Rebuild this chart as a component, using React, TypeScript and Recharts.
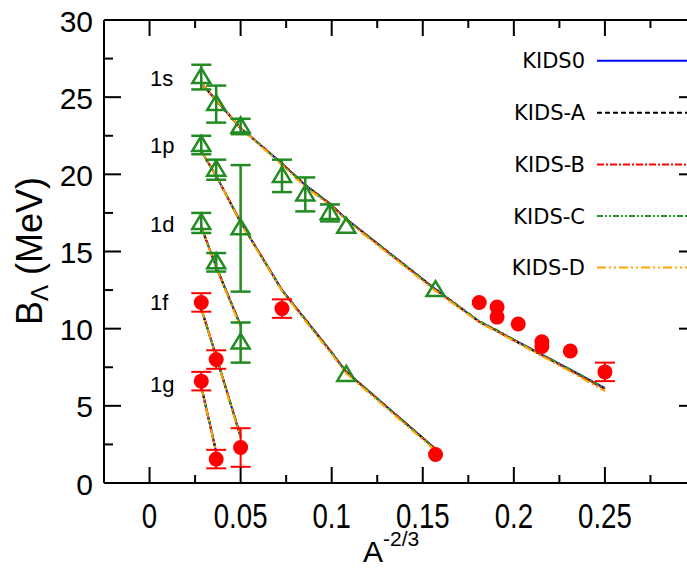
import { ComposedChart, Line, Scatter, XAxis, YAxis, ErrorBar } from 'recharts';

// x = A^(-2/3) of the hypernuclei used for the calculated curves
const xNodes = [0.0284, 0.0366, 0.05, 0.0727, 0.0855, 0.099, 0.108, 0.157, 0.181, 0.1908, 0.2024, 0.2154, 0.231, 0.25];

// calculated B_Lambda (MeV) per state and model
const kids0_1s = [25.9, 24.8, 23.0, 20.7, 19.3, 18.1, 17.1, 12.55, 10.45, 9.85, 9.12, 8.31, 7.34, 6.15];
const kidsA_1s = [25.9, 24.8, 23.0, 20.7, 19.3, 18.1, 17.1, 12.55, 10.45, 9.85, 9.1, 8.28, 7.3, 6.1];
const kidsB_1s = [25.9, 24.8, 23.0, 20.7, 19.3, 18.1, 17.1, 12.5, 10.45, 9.85, 9.1, 8.28, 7.3, 6.1];
const kidsC_1s = [25.9, 24.8, 23.0, 20.7, 19.3, 18.1, 17.1, 12.55, 10.5, 9.9, 9.15, 8.33, 7.36, 6.15];
const kidsD_1s = [25.9, 24.8, 23.0, 20.6, 19.2, 18.0, 17.0, 12.45, 10.4, 9.8, 9.05, 8.22, 7.22, 5.95];
const kids0_1p = [21.5, 19.9, 16.9, 12.5, 10.6, 8.6, 7.2, 2.2];
const kidsD_1p = [21.5, 19.9, 16.85, 12.45, 10.5, 8.5, 7.1, 2.1];
const kids0_1d = [16.6, 14.0, 10.2];
const kidsD_1d = [16.6, 13.95, 10.1];
const kids0_1f = [11.3, 8.2, 3.0];
const kidsD_1f = [11.3, 8.15, 2.9];
const kids0_1g = [6.25, 2.0];
const kidsD_1g = [6.25, 1.95];

// experimental points: open green triangles
const triX = [0.0284, 0.0366, 0.05, 0.0727, 0.0855, 0.099, 0.108, 0.157, 0.0284, 0.0366, 0.05, 0.108, 0.0284, 0.0366, 0.05];
const triY = [26.3, 24.55, 23.1, 19.9, 18.7, 17.5, 16.6, 12.5, 21.9, 20.3, 16.5, 7.0, 16.85, 14.3, 9.1];
const triErr = [0.8, 1.2, 0.5, 1.05, 1.1, 0.55, 0, 0, 0.6, 0.65, 4.1, 0, 0.65, 0.6, 1.3];

// experimental points: filled red circles
const dotX = [0.0284, 0.0366, 0.05, 0.0284, 0.0366, 0.0727, 0.157, 0.181, 0.1908, 0.1908, 0.2024, 0.2154, 0.2154, 0.231, 0.25];
const dotY = [11.7, 8.0, 2.3, 6.6, 1.55, 11.3, 1.85, 11.7, 11.4, 10.75, 10.3, 9.15, 8.85, 8.55, 7.2];
const dotErr = [0.6, 0.6, 1.25, 0.6, 0.6, 0.6, 0, 0, 0, 0, 0, 0, 0, 0, 0.6];

const modelNames = ['KIDS0', 'KIDS-A', 'KIDS-B', 'KIDS-C', 'KIDS-D'];
const modelColors = ['#0000ff', '#000000', '#ff0000', '#2a8f2a', '#ffa500'];
const modelDash = [undefined, '5 3', '7 2 2 2', '6 2 2 2 2 2', '9 3 2 3 2 3'];

const stateLabels = ['1s', '1p', '1d', '1f', '1g'];

const xMajor = [0, 0.05, 0.1, 0.15, 0.2, 0.25];
const xMinor = [0.025, 0.075, 0.125, 0.175, 0.225, 0.275];
const xLabels = ['0', '0.05', '0.1', '0.15', '0.2', '0.25'];
const yMajor = [0, 5, 10, 15, 20, 25, 30];
const yMinor = [2.5, 7.5, 12.5, 17.5, 22.5, 27.5];

const stateCurves = [
  [kids0_1s, kidsA_1s, kidsB_1s, kidsC_1s, kidsD_1s],
  [kids0_1p, kids0_1p, kids0_1p, kids0_1p, kidsD_1p],
  [kids0_1d, kids0_1d, kids0_1d, kids0_1d, kidsD_1d],
  [kids0_1f, kids0_1f, kids0_1f, kids0_1f, kidsD_1f],
  [kids0_1g, kids0_1g, kids0_1g, kids0_1g, kidsD_1g],
];

const curveData = stateCurves.map((models) =>
  models[0].map((_, i) => ({
    x: xNodes[i],
    k0: models[0][i],
    k1: models[1][i],
    k2: models[2][i],
    k3: models[3][i],
    k4: models[4][i],
  }))
);
const triData = triX.map((x, i) => ({ x, y: triY[i], err: triErr[i] }));
const dotData = dotX.map((x, i) => ({ x, y: dotY[i], err: dotErr[i] }));

const W = 700;
const H = 569;
const FONT = 'Liberation Sans, Arial, Helvetica, sans-serif';

const isIn = (arr: number[], v: number) => arr.findIndex((a) => Math.abs(a - v) < 1e-9);

const BottomTick = (p: any) => {
  const v = p.payload.value;
  const mi = isIn(xMajor, v);
  const len = mi >= 0 ? 16 : 8;
  return (
    <g>
      <line x1={p.x} y1={p.y} x2={p.x} y2={p.y - len} stroke="#000" strokeWidth={2} />
      {mi >= 0 && (
        <text
          transform={`translate(${p.x},${p.y + 45}) scale(0.79,1)`}
          textAnchor="middle"
          fontFamily={FONT}
          fontSize={35}
          fill="#000"
        >
          {xLabels[mi]}
        </text>
      )}
    </g>
  );
};

const TopTick = (p: any) => {
  const len = isIn(xMajor, p.payload.value) >= 0 ? 16 : 8;
  return <line x1={p.x} y1={p.y} x2={p.x} y2={p.y + len} stroke="#000" strokeWidth={2} />;
};

const LeftTick = (p: any) => {
  const v = p.payload.value;
  const major = isIn(yMajor, v) >= 0;
  const len = major ? 17 : 9;
  return (
    <g>
      <line x1={p.x} y1={p.y} x2={p.x + len} y2={p.y} stroke="#000" strokeWidth={2} />
      {major && (
        <text x={p.x - 11} y={p.y + 11.5} textAnchor="end" fontFamily={FONT} fontSize={30} fill="#000">
          {v}
        </text>
      )}
    </g>
  );
};

const RightTick = (p: any) => {
  const len = isIn(yMajor, p.payload.value) >= 0 ? 17 : 9;
  return <line x1={p.x} y1={p.y} x2={p.x - len} y2={p.y} stroke="#000" strokeWidth={2} />;
};

const TriangleShape = (p: any) => (
  <polygon
    points={`${p.cx},${p.cy - 9} ${p.cx - 9},${p.cy + 6} ${p.cx + 9},${p.cy + 6}`}
    fill="none"
    stroke="#228b22"
    strokeWidth={2.5}
  />
);

const DotShape = (p: any) => <circle cx={p.cx} cy={p.cy} r={7.5} fill="#ff0000" />;

const legendRows = [60.7, 112.7, 164.5, 216, 267.5];
const labelBaselines = [86, 153, 232, 310, 392];

export default function App() {
  return (
    <div style={{ position: 'fixed', left: 0, top: 0, width: 687, height: H, overflow: 'hidden', background: '#fff' }}>
      <ComposedChart width={W} height={H} margin={{ top: 19, right: 3, left: 103, bottom: 85 }}>
        <XAxis
          dataKey="x"
          type="number"
          domain={[-0.025, 0.3]}
          ticks={[...xMajor, ...xMinor]}
          interval={0}
          height={1}
          tickSize={0}
          tickMargin={0}
          tickLine={false}
          axisLine={{ stroke: '#000', strokeWidth: 2 }}
          tick={BottomTick}
          allowDataOverflow
        />
        <XAxis
          xAxisId="top"
          orientation="top"
          dataKey="x"
          type="number"
          domain={[-0.025, 0.3]}
          ticks={[...xMajor, ...xMinor]}
          interval={0}
          height={1}
          tickSize={0}
          tickMargin={0}
          tickLine={false}
          axisLine={{ stroke: '#000', strokeWidth: 2 }}
          tick={TopTick}
          allowDataOverflow
        />
        <YAxis
          type="number"
          domain={[0, 30]}
          ticks={[...yMajor, ...yMinor]}
          interval={0}
          width={1}
          tickSize={0}
          tickMargin={0}
          tickLine={false}
          axisLine={{ stroke: '#000', strokeWidth: 2 }}
          tick={LeftTick}
          allowDataOverflow
        />
        <YAxis
          yAxisId="right"
          orientation="right"
          type="number"
          domain={[0, 30]}
          ticks={[...yMajor, ...yMinor]}
          interval={0}
          width={1}
          tickSize={0}
          tickMargin={0}
          tickLine={false}
          axisLine={{ stroke: '#000', strokeWidth: 2 }}
          tick={RightTick}
          allowDataOverflow
        />

        {curveData.map((rows, si) =>
          modelNames.map((name, mi) => (
            <Line
              key={`${stateLabels[si]}-${name}`}
              data={rows}
              dataKey={`k${mi}`}
              name={name}
              type="linear"
              stroke={modelColors[mi]}
              strokeDasharray={modelDash[mi]}
              strokeWidth={2}
              dot={false}
              isAnimationActive={false}
            />
          ))
        )}

        <Scatter data={triData} dataKey="y" shape={TriangleShape} isAnimationActive={false}>
          <ErrorBar dataKey="err" direction="y" width={10} stroke="#228b22" strokeWidth={2.5} />
        </Scatter>
        <Scatter data={dotData} dataKey="y" shape={DotShape} isAnimationActive={false}>
          <ErrorBar dataKey="err" direction="y" width={10} stroke="#ff0000" strokeWidth={2} />
        </Scatter>
      </ComposedChart>

      <svg width={687} height={H} style={{ position: 'absolute', left: 0, top: 0, pointerEvents: 'none' }}>
        {/* y title */}
        <text transform="translate(42,251) rotate(-90)" textAnchor="middle" fontFamily={FONT} fontSize={36} fill="#000">
          B
          <tspan fontSize={24} dy={6}>Λ</tspan>
          <tspan dy={-6}> (MeV)</tspan>
        </text>
        {/* x title */}
        <text x={363} y={562} fontFamily={FONT} fontSize={30} fill="#000">
          A
          <tspan fontSize={21} dy={-16}>-2/3</tspan>
        </text>
        {/* state labels */}
        {stateLabels.map((s, i) => (
          <text key={s} x={150} y={labelBaselines[i]} fontFamily={FONT} fontSize={22} fill="#000">
            {s}
          </text>
        ))}
        {/* legend */}
        {modelNames.map((name, i) => (
          <g key={name}>
            <text
              x={585}
              y={legendRows[i] + 7.5}
              textAnchor="end"
              fontFamily="DejaVu Sans, sans-serif"
              fontSize={21}
              fill="#000"
            >
              {name}
            </text>
            <line
              x1={597}
              y1={legendRows[i]}
              x2={700}
              y2={legendRows[i]}
              stroke={modelColors[i]}
              strokeWidth={2}
              strokeDasharray={modelDash[i]}
            />
          </g>
        ))}
      </svg>
    </div>
  );
}
